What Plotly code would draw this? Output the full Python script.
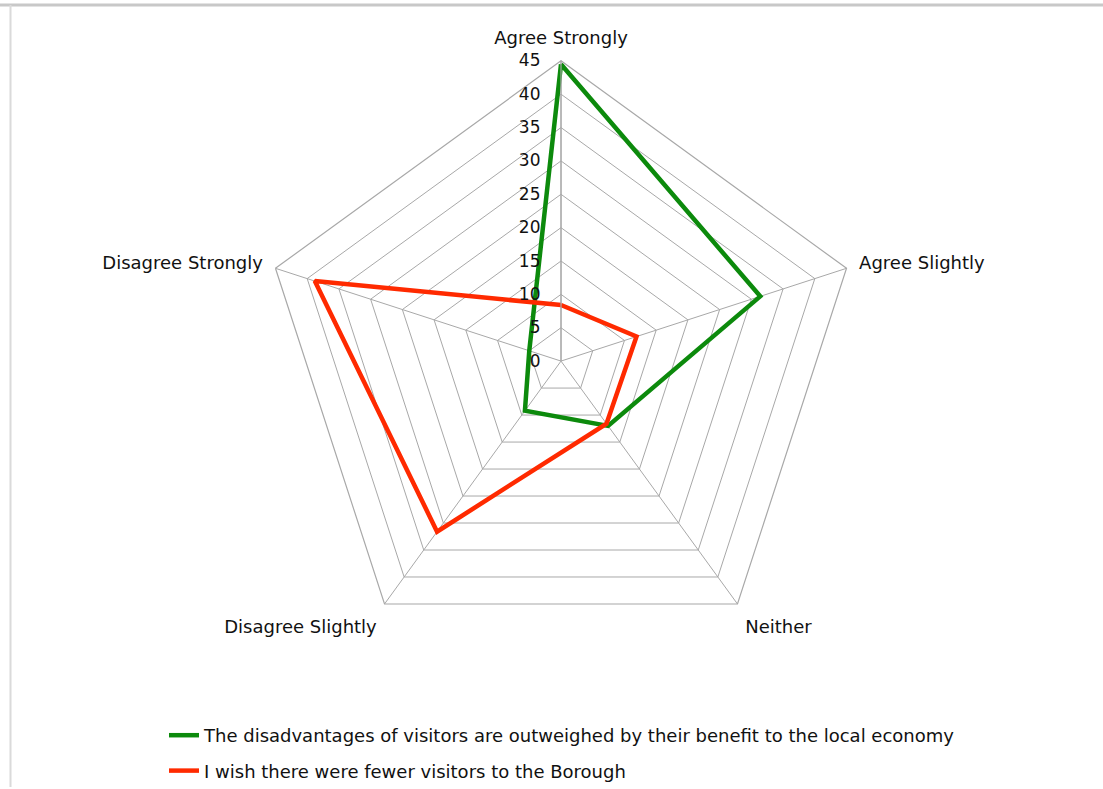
import plotly.graph_objects as go

categories = ["Agree Strongly", "Agree Slightly", "Neither", "Disagree Slightly", "Disagree Strongly"]
series_names = [
    "The disadvantages of visitors are outweighed by their benefit to the local economy",
    "I wish there were fewer visitors to the Borough",
]
green_values = [44.5, 31.4, 12, 9.2, 5]
red_values = [8.4, 11.9, 11.6, 31.6, 38.8]
radial_ticks = [0, 5, 10, 15, 20, 25, 30, 35, 40, 45]

W, H = 1103, 789
cx, cy, R = 561, 362, 301

FONT = "DejaVu Sans, Liberation Sans, Arial, sans-serif"

fig = go.Figure()
for name, vals, col, grp in [
    (series_names[0], green_values, "#0c8a0c", "g1"),
    (series_names[1], red_values, "#ff2a00", "g2"),
]:
    fig.add_trace(go.Scatterpolar(
        r=vals + [vals[0]],
        theta=categories + [categories[0]],
        mode="lines",
        line=dict(color=col, width=4.5),
        name=name,
        legendgroup=grp,
    ))

grid = "#a8a8a8"
fig.update_layout(
    width=W, height=H,
    margin=dict(l=0, r=0, t=0, b=0),
    paper_bgcolor="white",
    plot_bgcolor="white",
    font=dict(family=FONT, size=18, color="#111"),
    polar=dict(
        domain=dict(x=[(cx - R) / W, (cx + R) / W], y=[1 - (cy + R) / H, 1 - (cy - R) / H]),
        gridshape="linear",
        bgcolor="white",
        angularaxis=dict(
            direction="clockwise", rotation=90,
            gridcolor=grid, gridwidth=1.2, linecolor=grid, linewidth=1.2, showline=True,
            ticks="outside", ticklen=9, tickcolor="rgba(0,0,0,0)",
            tickfont=dict(family=FONT, size=18, color="#111"),
        ),
        radialaxis=dict(
            range=[0, 45], tickvals=radial_ticks, angle=90, side="counterclockwise",
            tickangle=90,
            gridcolor=grid, gridwidth=1.2, linecolor=grid, linewidth=1.2, showline=True,
            ticks="outside", ticklen=14, tickcolor="rgba(0,0,0,0)",
            tickfont=dict(family=FONT, size=17, color="#111"),
        ),
    ),
    showlegend=True,
    legend=dict(
        x=164 / W, y=1 - 719 / H, xanchor="left", yanchor="top",
        traceorder="grouped", tracegroupgap=9,
        font=dict(family=FONT, size=18, color="#111"),
        bgcolor="rgba(0,0,0,0)",
    ),
    shapes=[
        dict(type="line", xref="paper", yref="paper", x0=0, x1=1, y0=1 - 5 / H, y1=1 - 5 / H,
             line=dict(color="#c8c8c8", width=3)),
        dict(type="line", xref="paper", yref="paper", x0=10.5 / W, x1=10.5 / W, y0=0, y1=1 - 5 / H,
             line=dict(color="#dadada", width=2)),
    ],
)

fig.write_html("out.html", config={"displayModeBar": False},
               post_script="document.body.style.margin='0';")
